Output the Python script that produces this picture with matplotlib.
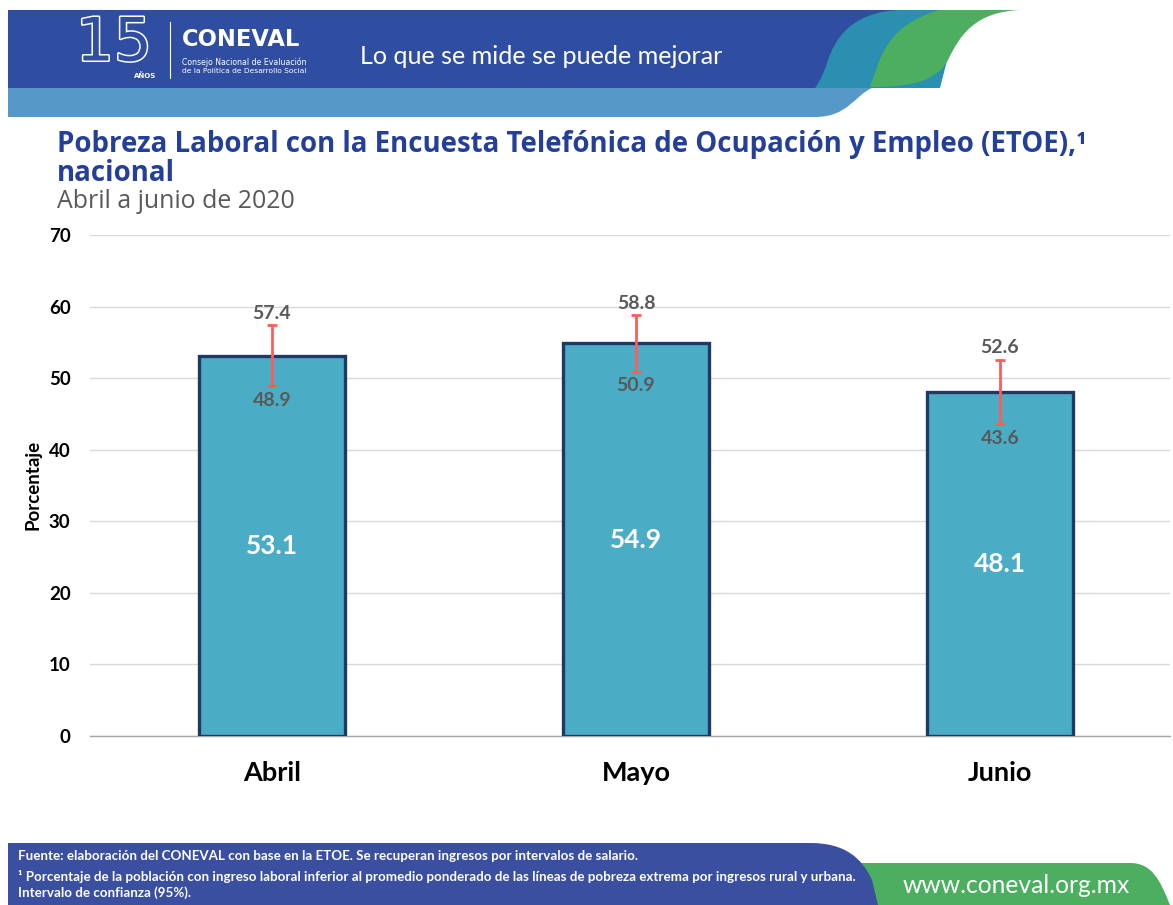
import matplotlib
matplotlib.use("Agg")
import matplotlib.pyplot as plt
from matplotlib.path import Path
from matplotlib.patches import PathPatch, Rectangle
import matplotlib.patheffects as pe
import numpy as np

# ---- data ----
months = ["Abril", "Mayo", "Junio"]
values = [53.1, 54.9, 48.1]
ci_low = [48.9, 50.9, 43.6]
ci_high = [57.4, 58.8, 52.6]
y_ticks = [0, 10, 20, 30, 40, 50, 60, 70]

title_line1 = "Pobreza Laboral con la Encuesta Telefónica de Ocupación y Empleo (ETOE),¹"
title_line2 = "nacional"
subtitle = "Abril a junio de 2020"
ylabel = "Porcentaje"
footer_lines = [
    "Fuente: elaboración del CONEVAL con base en la ETOE. Se recuperan ingresos por intervalos de salario.",
    "¹ Porcentaje de la población con ingreso laboral inferior al promedio ponderado de las líneas de pobreza extrema por ingresos rural y urbana.",
    "Intervalo de confianza (95%).",
]

W, H = 1173, 905
fig = plt.figure(figsize=(W / 100, H / 100), dpi=100)
bg = fig.add_axes([0, 0, 1, 1], zorder=0)
bg.set_xlim(0, W)
bg.set_ylim(H, 0)
bg.axis("off")
renderer = fig.canvas.get_renderer()


def fit(t, width):
    bb = t.get_window_extent(renderer)
    t.set_fontsize(t.get_fontsize() * width / bb.width)
    return t.get_fontsize()


def shape(verts, codes, color, z=1):
    bg.add_patch(PathPatch(Path(verts, codes), facecolor=color, edgecolor="none", zorder=z))


M, L, C, Z = Path.MOVETO, Path.LINETO, Path.CURVE4, Path.CLOSEPOLY

# ---- header ----
DARK = "#2F4DA1"
LIGHT = "#5699C9"
TEAL = "#2A8FB0"
GREEN = "#4CAF5F"
bg.add_patch(Rectangle((8, 10), 905, 78, facecolor=DARK, edgecolor="none", zorder=1))
# light lower band
shape([(8, 88), (872, 88), (855, 95), (848, 117), (815, 117), (8, 117), (8, 88)],
      [M, L, C, C, C, L, Z], LIGHT, 1)
# teal wave
shape([(900, 10), (850, 12), (835, 40), (828, 60), (822, 80), (815, 88), (815, 88),
       (940, 88), (960, 10), (900, 10)],
      [M, C, C, C, C, C, L, L, L, Z], TEAL, 2)
# green wave
shape([(940, 10), (1020, 10), (975, 12), (960, 35), (948, 60), (935, 85), (900, 87), (870, 87),
       (880, 60), (885, 25), (940, 10), (940, 10)],
      [M, L, C, C, C, C, C, C, C, C, C, Z], GREEN, 3)

# logo
bg.text(114, 44, "15", ha="center", va="center", fontsize=43, color=DARK, family="DejaVu Sans",
        path_effects=[pe.withStroke(linewidth=2.2, foreground="white")], zorder=5)
bg.text(134, 76, "AÑOS", ha="left", va="center", fontsize=5, color="white", weight="bold", zorder=5)
bg.plot([170, 170], [22, 78], color="white", lw=0.8, zorder=5)
t = bg.text(182, 39, "CONEVAL", ha="left", va="center", fontsize=16, color="white",
            weight="heavy", family="DejaVu Sans", zorder=5)
fit(t, 118)
t = bg.text(182, 62, "Consejo Nacional de Evaluación", ha="left", va="center", fontsize=5,
            color="white", family="DejaVu Sans", zorder=5)
fit(t, 125)
t = bg.text(182, 71, "de la Política de Desarrollo Social", ha="left", va="center", fontsize=5,
            color="white", family="DejaVu Sans", zorder=5)
fit(t, 125)
t = bg.text(360, 56, "Lo que se mide se puede mejorar", ha="left", va="center", fontsize=16,
            color="white", family="Lato", zorder=5)
fit(t, 366)

# ---- footer ----
FBLUE = "#3B4FA0"
shape([(840, 905), (840, 863), (1130, 863), (1152, 863), (1160, 880), (1170, 905), (840, 905)],
      [M, L, L, C, C, C, Z], GREEN, 1)
shape([(8, 905), (8, 843), (810, 843), (845, 843), (862, 858), (872, 880), (878, 905), (8, 905)],
      [M, L, L, C, C, C, L, Z], FBLUE, 2)
ft = bg.text(18, 876, footer_lines[1], ha="left", va="center", fontsize=9, color="white",
             weight="bold", family="Lato", zorder=5)
fs = fit(ft, 830)
bg.text(18, 856, footer_lines[0], ha="left", va="center", fontsize=fs, color="white",
        weight="bold", family="Lato", zorder=5)
bg.text(18, 893, footer_lines[2], ha="left", va="center", fontsize=fs, color="white",
        weight="bold", family="Lato", zorder=5)
t = bg.text(903, 885, "www.coneval.org.mx", ha="left", va="center", fontsize=16, color="white",
            family="Lato", zorder=5)
fit(t, 228)

# ---- titles ----
TCOL = "#243F99"
t = bg.text(57, 152, title_line1, ha="left", va="baseline", fontsize=18, color=TCOL,
            weight="bold", family="Open Sans")
tfs = fit(t, 1033)
bg.text(57, 181, title_line2, ha="left", va="baseline", fontsize=tfs, color=TCOL,
        weight="bold", family="Open Sans")
t = bg.text(57, 208, subtitle, ha="left", va="baseline", fontsize=15, color="#595959",
            family="Open Sans")
fit(t, 237)
bg.text(33, 485, ylabel, ha="center", va="center", rotation=90, fontsize=13.5, weight="bold",
        family="Lato", color="black")

# ---- chart ----
ax = fig.add_axes([90 / W, (H - 736) / H, 1080 / W, (736 - 235) / H], zorder=2)
ax.patch.set_alpha(0)
x = np.arange(len(months))
ax.set_xlim(-0.5, 2.467)
ax.set_ylim(0, 70)
ax.bar(x, values, width=0.4, color="#4BACC6", edgecolor="#1F3864", linewidth=2.4, zorder=3)
lo = np.array(ci_low)
hi = np.array(ci_high)
ax.errorbar(x, (lo + hi) / 2, yerr=(hi - lo) / 2, fmt="none", ecolor="#FF5B5B", elinewidth=2,
            capsize=3.5, capthick=2, zorder=4)
for xi, v, l, h in zip(x, values, ci_low, ci_high):
    ax.text(xi, v / 2, f"{v:.1f}", ha="center", va="center", color="white", fontsize=19,
            weight="bold", family="Lato", zorder=5)
    ax.annotate(f"{h:.1f}", (xi, h), xytext=(0, 2.5), textcoords="offset points", ha="center",
                va="bottom", color="#595959", fontsize=14, weight="bold", family="Lato", zorder=5)
    ax.annotate(f"{l:.1f}", (xi, l), xytext=(0, -4), textcoords="offset points", ha="center",
                va="top", color="#595959", fontsize=14, weight="bold", family="Lato", zorder=5)

ax.set_yticks(y_ticks)
ax.set_yticklabels([str(v) for v in y_ticks])
ax.set_xticks(x)
ax.set_xticklabels(months)
for lab in ax.get_yticklabels():
    lab.set_fontweight("bold")
    lab.set_fontfamily("Lato")
    lab.set_fontsize(13.5)
for lab in ax.get_xticklabels():
    lab.set_fontweight("bold")
    lab.set_fontfamily("Lato")
    lab.set_fontsize(19.5)
ax.tick_params(axis="y", length=0, pad=14)
ax.tick_params(axis="x", length=0, pad=18)
ax.yaxis.grid(True, color="#D9D9D9", lw=1, zorder=0)
ax.set_axisbelow(True)
for s in ["top", "right", "left"]:
    ax.spines[s].set_visible(False)
ax.spines["bottom"].set_color("#A6A6A6")
ax.spines["bottom"].set_linewidth(1)

fig.savefig("out.png", dpi=100)
